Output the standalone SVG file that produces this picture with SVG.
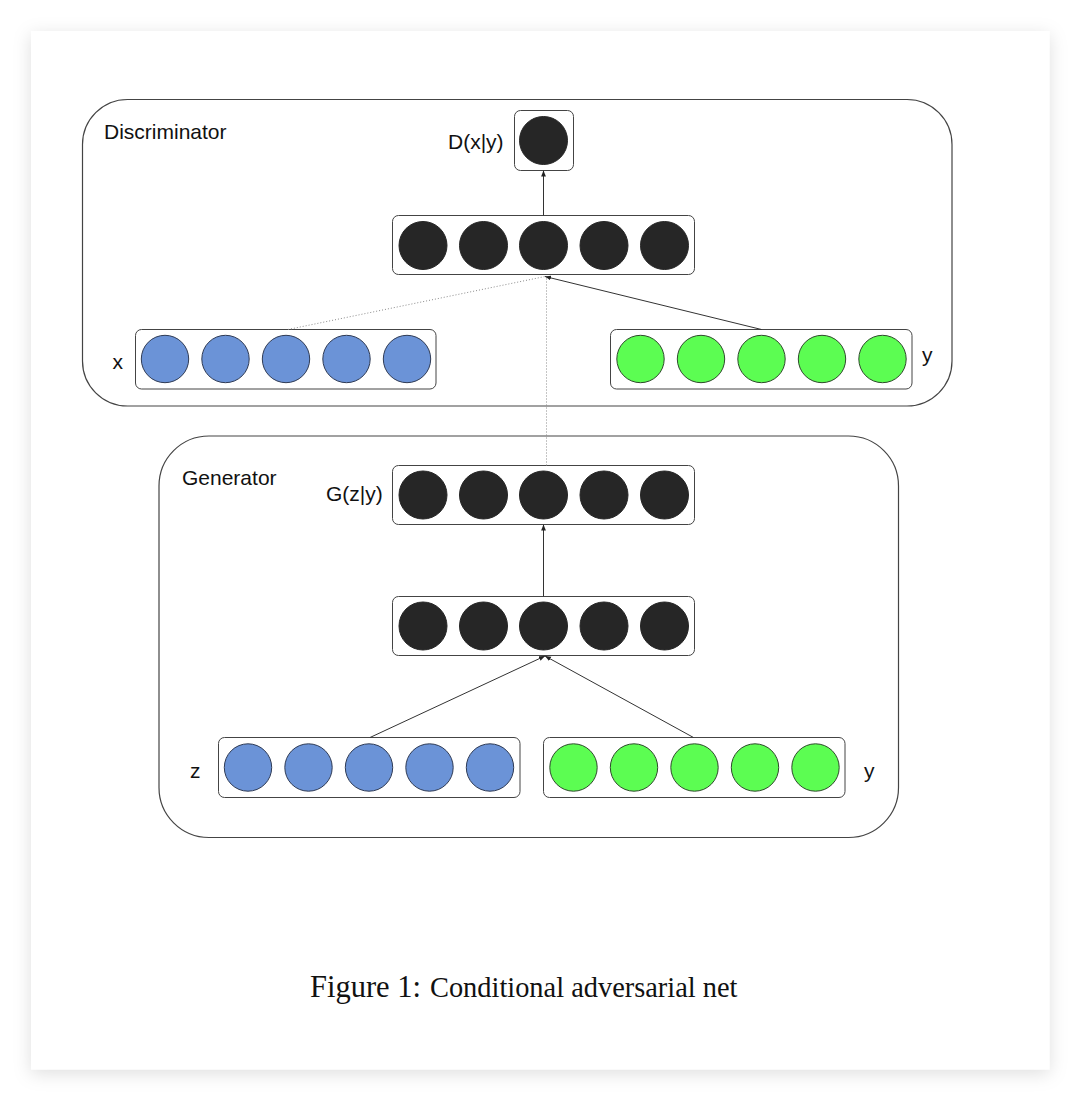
<svg xmlns="http://www.w3.org/2000/svg" width="1080" height="1100" viewBox="0 0 1080 1100">
<style>
.lbl{font-family:"Liberation Sans",Arial,Helvetica,sans-serif;font-size:21px;fill:#111}
.cap{font-family:"Liberation Serif","Times New Roman",serif;fill:#111}
.group{fill:none;stroke:#444;stroke-width:1.2}
.layer{fill:#fff;stroke:#444;stroke-width:1}
.blk{fill:#262626;stroke:#262626;stroke-width:1}
.blu{fill:#6b93d7;stroke:#2f3b55;stroke-width:1}
.grn{fill:#5cfd52;stroke:#2f4a2c;stroke-width:1}
.solid{fill:none;stroke:#333;stroke-width:1}
.dot{fill:none;stroke:#8a8a8a;stroke-width:1;stroke-dasharray:1 2}
</style>
<defs>
<filter id="sh" x="-10%" y="-10%" width="120%" height="120%">
<feDropShadow dx="0" dy="4" stdDeviation="9" flood-color="#000" flood-opacity="0.13"/>
</filter>
<marker id="arr" viewBox="0 0 10 10" refX="10" refY="5" markerWidth="6" markerHeight="6" orient="auto" markerUnits="userSpaceOnUse">
<path d="M0,1 L10,5 L0,9 Z" fill="#222"/>
</marker>
</defs>
<rect x="0" y="0" width="1080" height="1100" fill="#fff"/>
<rect x="31" y="31" width="1018.5" height="1038.5" fill="#fff" filter="url(#sh)"/>

<g id="discriminator">
<rect class="group" x="82.5" y="99.5" width="869.5" height="306.5" rx="45"/>
<text class="lbl" x="104" y="139">Discriminator</text>
</g>
<g id="generator">
<rect class="group" x="159" y="436" width="739.5" height="401.5" rx="50"/>
<text class="lbl" x="182" y="485">Generator</text>
</g>

<g id="d-output">
<rect class="layer" x="514.5" y="110.5" width="59" height="60" rx="6"/>
<circle class="blk" cx="543.5" cy="140.5" r="24"/>
<text class="lbl" x="448" y="149">D(x|y)</text>
</g>

<g id="d-hidden">
<rect class="layer" x="392.5" y="215.5" width="302" height="59" rx="6"/>
<circle class="blk" cx="423" cy="245.5" r="24"/>
<circle class="blk" cx="483.5" cy="245.5" r="24"/>
<circle class="blk" cx="543.5" cy="245.5" r="24"/>
<circle class="blk" cx="604" cy="245.5" r="24"/>
<circle class="blk" cx="664.5" cy="245.5" r="24"/>
</g>

<g id="d-x">
<rect class="layer" x="135.5" y="329.5" width="300.5" height="59.5" rx="6"/>
<circle class="blu" cx="165" cy="359" r="23.7"/>
<circle class="blu" cx="225.5" cy="359" r="23.7"/>
<circle class="blu" cx="286" cy="359" r="23.7"/>
<circle class="blu" cx="346.5" cy="359" r="23.7"/>
<circle class="blu" cx="407" cy="359" r="23.7"/>
<text class="lbl" x="112.5" y="369">x</text>
</g>

<g id="d-y">
<rect class="layer" x="610.5" y="329.5" width="301.5" height="59.5" rx="6"/>
<circle class="grn" cx="640.5" cy="359" r="23.7"/>
<circle class="grn" cx="701" cy="359" r="23.7"/>
<circle class="grn" cx="761.5" cy="359" r="23.7"/>
<circle class="grn" cx="822" cy="359" r="23.7"/>
<circle class="grn" cx="882.5" cy="359" r="23.7"/>
<text class="lbl" x="922" y="362">y</text>
</g>

<g id="g-output">
<rect class="layer" x="392.5" y="465.5" width="302" height="59" rx="6"/>
<circle class="blk" cx="423" cy="495" r="24"/>
<circle class="blk" cx="483.5" cy="495" r="24"/>
<circle class="blk" cx="543.5" cy="495" r="24"/>
<circle class="blk" cx="604" cy="495" r="24"/>
<circle class="blk" cx="664.5" cy="495" r="24"/>
<text class="lbl" x="326" y="501">G(z|y)</text>
</g>

<g id="g-hidden">
<rect class="layer" x="392.5" y="596.5" width="302" height="59" rx="6"/>
<circle class="blk" cx="423" cy="626" r="24"/>
<circle class="blk" cx="483.5" cy="626" r="24"/>
<circle class="blk" cx="543.5" cy="626" r="24"/>
<circle class="blk" cx="604" cy="626" r="24"/>
<circle class="blk" cx="664.5" cy="626" r="24"/>
</g>

<g id="g-z">
<rect class="layer" x="218.5" y="737.5" width="301.5" height="60" rx="6"/>
<circle class="blu" cx="248" cy="767.5" r="23.7"/>
<circle class="blu" cx="308.5" cy="767.5" r="23.7"/>
<circle class="blu" cx="369" cy="767.5" r="23.7"/>
<circle class="blu" cx="429.5" cy="767.5" r="23.7"/>
<circle class="blu" cx="490" cy="767.5" r="23.7"/>
<text class="lbl" x="190" y="778">z</text>
</g>

<g id="g-y">
<rect class="layer" x="543.5" y="737.5" width="301.5" height="60" rx="6"/>
<circle class="grn" cx="573.5" cy="767.5" r="23.7"/>
<circle class="grn" cx="634" cy="767.5" r="23.7"/>
<circle class="grn" cx="694.5" cy="767.5" r="23.7"/>
<circle class="grn" cx="755" cy="767.5" r="23.7"/>
<circle class="grn" cx="815.5" cy="767.5" r="23.7"/>
<text class="lbl" x="864" y="778">y</text>
</g>

<g id="connectors">
<line class="solid" x1="543.5" y1="215.5" x2="543.5" y2="170.5" marker-end="url(#arr)"/>
<line class="dot" x1="288" y1="329.5" x2="545" y2="276.5"/>
<line class="dot" x1="546.5" y1="465.5" x2="546.5" y2="278"/>
<line class="solid" x1="761.5" y1="329.5" x2="545" y2="276.5" marker-end="url(#arr)"/>
<line class="solid" x1="543.5" y1="596.5" x2="543.5" y2="524.5" marker-end="url(#arr)"/>
<line class="solid" x1="370" y1="737.5" x2="545" y2="656" marker-end="url(#arr)"/>
<line class="solid" x1="693.5" y1="737.5" x2="545" y2="656" marker-end="url(#arr)"/>
</g>

<g id="caption">
<text class="cap" x="310" y="997"><tspan font-size="30.5">Figure 1:</tspan><tspan font-size="28.4" dx="9">Conditional adversarial net</tspan></text>
</g>
</svg>
